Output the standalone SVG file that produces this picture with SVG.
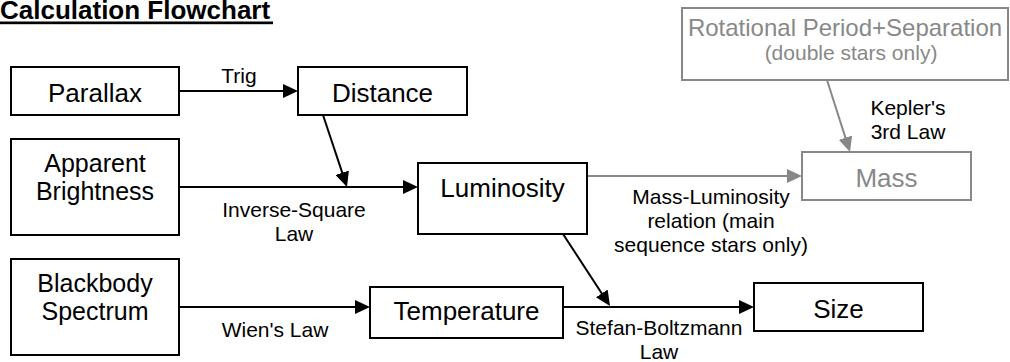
<svg xmlns="http://www.w3.org/2000/svg" width="1010" height="362" viewBox="0 0 1010 362">
<style>
text{font-family:"Liberation Sans",Arial,sans-serif;text-anchor:middle}
.box{fill:#fff;stroke:#000;stroke-width:2}
.gbox{fill:#fff;stroke:#888;stroke-width:2}
.n{font-size:26px;fill:#000}
.n2{font-size:25px;fill:#000}
.g{fill:#888}
.lbl{font-size:21px;fill:#000}
.ln{stroke:#000;stroke-width:2;fill:none}
.gln{stroke:#888;stroke-width:2;fill:none}
.title{font-size:26px;font-weight:bold;text-anchor:start}
</style>
<defs>
<marker id="ah" markerWidth="15" markerHeight="14" refX="12" refY="7" orient="auto" markerUnits="userSpaceOnUse"><path d="M0,0 L15,7 L0,14 z" fill="#000"/></marker>
<marker id="gah" markerWidth="15" markerHeight="14" refX="12" refY="7" orient="auto" markerUnits="userSpaceOnUse"><path d="M0,0 L15,7 L0,14 z" fill="#888"/></marker>
</defs>
<rect width="1010" height="362" fill="#fff"/>
<g id="title"><text class="title" x="0" y="18.5">Calculation Flowchart</text><rect x="0" y="21.5" width="273" height="2.7" fill="#000"/></g>
<g id="connectors">
<line class="ln" x1="179" y1="91" x2="295" y2="91" marker-end="url(#ah)"/>
<line class="ln" x1="179" y1="187" x2="415" y2="187" marker-end="url(#ah)"/>
<line class="ln" x1="323" y1="115" x2="346.05" y2="184.15" marker-end="url(#ah)"/>
<line class="ln" x1="179" y1="307" x2="367" y2="307" marker-end="url(#ah)"/>
<line class="ln" x1="563" y1="307" x2="751" y2="307" marker-end="url(#ah)"/>
<line class="ln" x1="563" y1="234" x2="608.36" y2="303.49" marker-end="url(#ah)"/>
<line class="gln" x1="587" y1="176" x2="799" y2="176" marker-end="url(#gah)"/>
<line class="gln" x1="827" y1="80" x2="849.09" y2="149.14" marker-end="url(#gah)"/>
<text class="lbl" x="239" y="83">Trig</text>
<text class="lbl" x="294" y="217">Inverse-Square<tspan x="294" dy="24">Law</tspan></text>
<text class="lbl" x="275" y="337">Wien's Law</text>
<text class="lbl" x="659" y="335">Stefan-Boltzmann<tspan x="659" dy="24">Law</tspan></text>
<text class="lbl g" x="711" y="204">Mass-Luminosity<tspan x="711" dy="24">relation (main</tspan><tspan x="711" dy="24">sequence stars only)</tspan></text>
<text class="lbl g" x="908" y="115">Kepler's<tspan x="908" dy="24">3rd Law</tspan></text>
</g>
<g id="parallax"><rect class="box" x="11" y="67" width="168" height="48"/><text class="n" x="95" y="101.5">Parallax</text></g>
<g id="distance"><rect class="box" x="298" y="67" width="169" height="48"/><text class="n" x="382.5" y="101.5">Distance</text></g>
<g id="apparent-brightness"><rect class="box" x="11" y="139" width="168" height="96"/><text class="n2" x="95" y="172">Apparent<tspan x="95" dy="28">Brightness</tspan></text></g>
<g id="luminosity"><rect class="box" x="418" y="163" width="169" height="71"/><text class="n" x="502.5" y="197">Luminosity</text></g>
<g id="blackbody-spectrum"><rect class="box" x="11" y="259" width="168" height="96"/><text class="n2" x="95" y="292">Blackbody<tspan x="95" dy="28">Spectrum</tspan></text></g>
<g id="temperature"><rect class="box" x="370" y="287" width="193" height="51"/><text class="n" x="466.5" y="320">Temperature</text></g>
<g id="size"><rect class="box" x="754" y="283" width="169" height="48"/><text class="n" x="838.5" y="318">Size</text></g>
<g id="mass"><rect class="gbox" x="802" y="152" width="169" height="48"/><text class="n g" x="886.5" y="187">Mass</text></g>
<g id="rotational-period"><rect class="gbox" x="682" y="8" width="326" height="72"/><text class="g" x="845" y="36" font-size="24">Rotational Period+Separation<tspan x="851" dy="24" font-size="21">(double stars only)</tspan></text></g>
</svg>
